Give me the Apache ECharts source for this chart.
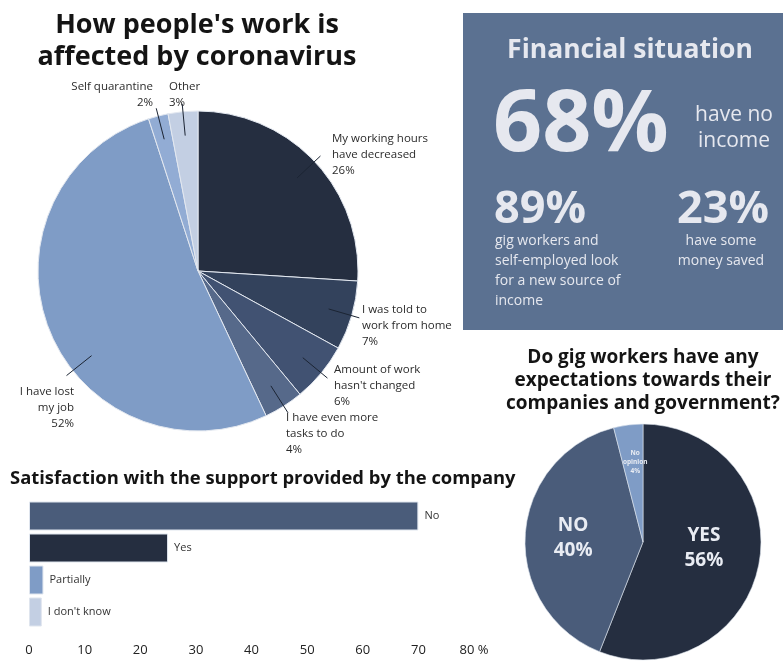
<!DOCTYPE html>
<html><head><meta charset="utf-8">
<script src="https://cdn.jsdelivr.net/npm/echarts@6/dist/echarts.min.js"></script>
<style>html,body{margin:0;padding:0;background:#fff}#c{width:783px;height:661px}</style>
</head><body><div id="c"></div>
<script>
// ---------------- DATA ----------------
const workCategories = ['My working hours\nhave decreased', 'I was told to\nwork from home', "Amount of work\nhasn't changed", 'I have even more\ntasks to do', 'I have lost\nmy job', 'Self quarantine', 'Other'];
const workValues = [26, 7, 6, 4, 52, 2, 3];

const supportCategories = ['No', 'Yes', 'Partially', "I don't know"];
const supportValues = [70, 25, 2.6, 2.3];
const supportTicks = [0, 10, 20, 30, 40, 50, 60, 70, 80];

const expectCategories = ['YES', 'NO', 'No\nopinion'];
const expectValues = [56, 40, 4];

const titleWork = ["How people's work is", 'affected by coronavirus'];
const titleSupport = 'Satisfaction with the support provided by the company';
const titleExpect = 'Do gig workers have any\nexpectations towards their\ncompanies and government?';
const finTitle = 'Financial situation';
const finMain = ['68%', 'have no\nincome'];
const finLeft = ['89%', 'gig workers and\nself-employed look\nfor a new source of\nincome'];
const finRight = ['23%', 'have some\nmoney saved'];

// ---------------- STYLE / LAYOUT ----------------
const FONT = "'Open Sans', sans-serif";
const workColors = ['#252e40', '#33425c', '#415272', '#56698a', '#7f9cc6', '#92acd4', '#c3cfe3'];
const supportColors = ['#4a5c7a', '#252e40', '#7f9cc6', '#c3cfe3'];
const expectColors = ['#252e40', '#4a5c7a', '#7f9cc6'];
const PIE1 = { cx: 198, cy: 271, r: 160 };
const PIE2 = { cx: 643, cy: 542, r: 118 };
// label anchor [x, y(middle), align]
const workLabelPos = [[332, 155, 'left'], [362, 326, 'left'], [334, 386, 'left'], [286, 434, 'left'], [74, 408, 'right'], [153, 95, 'right'], [169, 95, 'left']];
const workLineAngleOverride = { 4: 231.5 };
const lineInner = 0.85, lineOuter = 1.05;

// leader lines computed from the data angles
const total = workValues.reduce((a, b) => a + b, 0);
const leaderLines = [];
let acc = 0;
workValues.forEach((v, i) => {
  let mid = (acc + v / 2) / total * 360;
  acc += v;
  if (workLineAngleOverride[i] !== undefined) mid = workLineAngleOverride[i];
  const t = mid * Math.PI / 180;
  const p = (rho) => [PIE1.cx + rho * Math.sin(t), PIE1.cy - rho * Math.cos(t)];
  leaderLines.push({
    type: 'polyline', z: 100, silent: true,
    shape: { points: [p(PIE1.r * lineInner), p(PIE1.r * lineOuter)] },
    style: { stroke: '#1b2433', lineWidth: 1, fill: null }
  });
});

function txt(x, y, text, size, weight, fill, align, lineHeight) {
  return {
    type: 'text', x: x, y: y, z: 100, silent: true,
    style: {
      text: text, fontSize: size, fontWeight: weight, fontFamily: FONT, fill: fill,
      align: align, textAlign: align, verticalAlign: 'middle', textVerticalAlign: 'middle',
      lineHeight: lineHeight || Math.round(size * 1.25)
    }
  };
}
const boxText = '#e6e8ef';

const chart = echarts.init(document.getElementById('c'), null, { renderer: 'canvas' });
chart.setOption({
  animation: false,
  backgroundColor: '#ffffff',
  textStyle: { fontFamily: FONT },
  grid: { left: 29, right: 309, top: 500, bottom: 33, outerBoundsMode: 'none' },
  xAxis: {
    type: 'value', min: supportTicks[0], max: supportTicks[supportTicks.length - 1],
    interval: supportTicks[1] - supportTicks[0],
    axisLine: { show: false }, axisTick: { show: false }, splitLine: { show: false },
    axisLabel: {
      margin: 16, fontSize: 13, color: '#222', fontFamily: FONT,
      formatter: (v) => v === supportTicks[supportTicks.length - 1] ? v + ' %' : String(v)
    }
  },
  yAxis: { type: 'category', inverse: true, data: supportCategories, show: false },
  graphic: {
    elements: [
      txt(197, 25, titleWork[0], 27, 'bold', '#141414', 'center'),
      txt(197, 57, titleWork[1], 27, 'bold', '#141414', 'center'),
      txt(10, 479, titleSupport, 18.4, 'bold', '#141414', 'left'),
      txt(643, 381, titleExpect, 19, 'bold', '#141414', 'center', 23),
      { type: 'rect', z: 1, silent: true, shape: { x: 463, y: 13, width: 320, height: 317 }, style: { fill: '#5b7191' } },
      txt(630, 50, finTitle, 26.5, 'bold', boxText, 'center'),
      txt(493, 126, finMain[0], 86, 'bold', boxText, 'left', 92),
      txt(734, 128, finMain[1], 21, 'normal', boxText, 'center', 26),
      txt(494, 210, finLeft[0], 45, 'bold', boxText, 'left', 48),
      txt(495, 271, finLeft[1], 14, 'normal', boxText, 'left', 20),
      txt(723, 210, finRight[0], 45, 'bold', boxText, 'center', 48),
      txt(721, 251, finRight[1], 14, 'normal', boxText, 'center', 20)
    ].concat(leaderLines)
  },
  series: [
    {
      type: 'pie', center: [PIE1.cx, PIE1.cy], radius: PIE1.r, startAngle: 90, clockwise: true,
      avoidLabelOverlap: false, silent: true,
      data: workCategories.map((n, i) => ({ name: n, value: workValues[i], itemStyle: { color: workColors[i] } })),
      itemStyle: { borderColor: '#e3e8f0', borderWidth: 1 },
      label: { show: true, position: 'outside', formatter: '{b}\n{c}%', fontFamily: FONT, fontSize: 11.5, lineHeight: 16, color: '#2b2b2b' },
      labelLine: { show: false },
      labelLayout: (p) => {
        const L = workLabelPos[p.dataIndex];
        return { x: L[0], y: L[1], align: L[2], verticalAlign: 'middle' };
      }
    },
    {
      type: 'pie', center: [PIE2.cx, PIE2.cy], radius: PIE2.r, startAngle: 90, clockwise: true,
      avoidLabelOverlap: false, silent: true,
      data: expectCategories.map((n, i) => ({
        name: n, value: expectValues[i], itemStyle: { color: expectColors[i] },
        label: i === 2 ? { fontSize: 6.5, lineHeight: 9 } : undefined
      })),
      itemStyle: { borderColor: '#dfe5ee', borderWidth: 0.6 },
      label: {
        show: true, position: 'inside', formatter: (p) => p.name + '\n' + p.value + '%',
        color: '#e9ecf3', fontFamily: FONT, fontSize: 19, fontWeight: 'bold', lineHeight: 25
      },
      labelLine: { show: false },
      labelLayout: (p) => p.dataIndex === 2 ? { dy: -18 } : (p.dataIndex === 1 ? { dx: -8 } : { dy: -6 })
    },
    {
      type: 'bar', silent: true, barWidth: 29,
      data: supportValues.map((v, i) => ({ value: v, itemStyle: { color: supportColors[i] } })),
      itemStyle: { borderColor: '#dfe5ee', borderWidth: 1 },
      label: { show: true, position: 'right', distance: 6, formatter: '{b}', fontSize: 11, color: '#333', fontFamily: FONT }
    }
  ]
});
</script></body></html>
